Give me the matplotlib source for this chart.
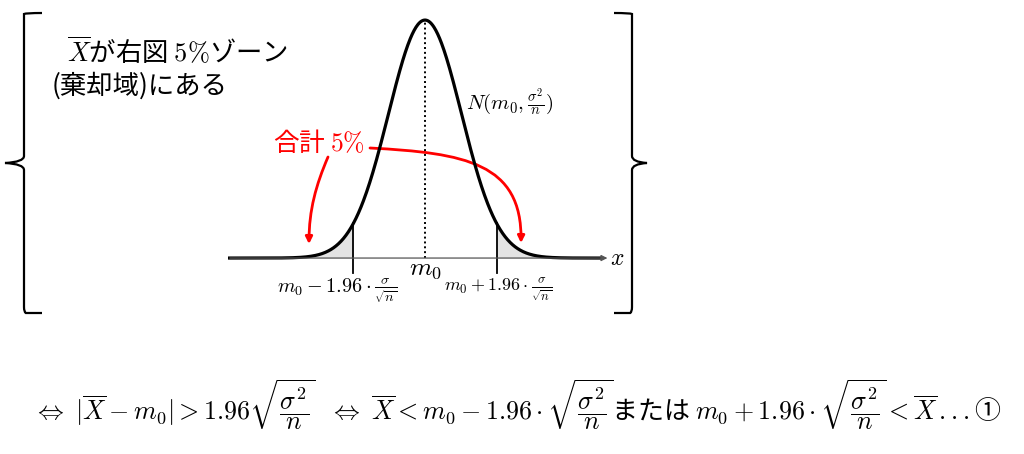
import numpy as np
import matplotlib
matplotlib.use("Agg")
import matplotlib.pyplot as plt
from matplotlib.path import Path
from matplotlib.patches import FancyArrowPatch, PathPatch

plt.rcParams['font.family'] = ['Noto Sans CJK JP', 'DejaVu Sans']
plt.rcParams['mathtext.fontset'] = 'cm'

# distribution of the sample mean, in units of sigma/sqrt(n)
m0 = 0.0
z_crit = 1.96
x_lo, x_hi = -5.4, 4.85
curve_label = r'$N(m_0,\frac{\sigma^2}{n})$'
left_label = r'$m_0-1.96\cdot\frac{\sigma}{\sqrt{n}}$'
right_label = r'$m_0+1.96\cdot\frac{\sigma}{\sqrt{n}}$'
text_line1 = r'$\overline{X}$が右図 $5\%$ゾーン'
text_line2 = '(棄却域)にある'
red_text = r'合計 $5\%$'
formula = (r'$\Leftrightarrow\ |\overline{X}-m_0|>1.96\sqrt{\dfrac{\sigma^2}{n}}'
           r'\ \ \Leftrightarrow\ \overline{X}<m_0-1.96\cdot\sqrt{\dfrac{\sigma^2}{n}}$'
           r'または $m_0+1.96\cdot\sqrt{\dfrac{\sigma^2}{n}}<\overline{X}\,...$①')

xs = np.linspace(x_lo, x_hi, 600)
pdf = np.exp(-0.5 * (xs - m0) ** 2) / np.sqrt(2 * np.pi)
pdf_crit = np.exp(-0.5 * z_crit ** 2) / np.sqrt(2 * np.pi)
peak = 1 / np.sqrt(2 * np.pi)

fig = plt.figure(figsize=(10.24, 4.54), dpi=100)

# overlay in pixel coordinates for braces and free text
ax0 = fig.add_axes([0, 0, 1, 1])
ax0.set_xlim(0, 1024)
ax0.set_ylim(454, 0)
ax0.axis('off')

# curve axes
ax = fig.add_axes([228 / 1024, (454 - 317.7) / 454, 394 / 1024, 310.2 / 454])
ax.patch.set_alpha(0)
ax.set_xlim(-5.4, 5.4)
ax.set_ylim(-0.1, 0.42)
ax.axis('off')

tail_l = xs <= -z_crit
tail_r = xs >= z_crit
ax.fill_between(xs[tail_l], 0, pdf[tail_l], color='#e3e3e3', lw=0)
ax.fill_between(xs[tail_r], 0, pdf[tail_r], color='#e3e3e3', lw=0)
ax.annotate('', xy=(5.0, 0), xytext=(-5.35, 0),
            arrowprops=dict(arrowstyle='-|>', color='#555555', lw=0.9,
                            mutation_scale=9, shrinkA=0, shrinkB=0))
ax.plot(xs, pdf, color='black', lw=2.3, solid_capstyle='butt')
ax.plot([m0, m0], [0, peak], color='black', lw=1.4, ls=(0, (1, 1.5)))
for z in (-z_crit, z_crit):
    ax.plot([z, z], [-0.025, pdf_crit], color='black', lw=1.3)

ax.text(m0, -0.017, r'$m_0$', fontsize=18.5, ha='center', va='center')
ax.text(5.28, 0.0, r'$x$', fontsize=17, ha='center', va='center')
ax.text(-2.41, -0.054, left_label, fontsize=14.5, ha='center', va='center')
ax.text(2.0, -0.054, right_label, fontsize=13, ha='center', va='center')
ax.text(1.12, 0.263, curve_label, fontsize=15, ha='left', va='center')

# braces
def brace(x_line, x_end, x_tip, y_top, y_mid, y_bot):
    d = 6 if x_end > x_line else -6
    verts = [(x_end, y_top), (x_line + d * 0.3, y_top), (x_line, y_top + 1), (x_line, y_top + 6),
             (x_line, y_mid - 7), (x_line, y_mid - 1), (x_tip, y_mid),
             (x_line, y_mid + 1), (x_line, y_mid + 7),
             (x_line, y_bot - 6), (x_line, y_bot - 1), (x_line + d * 0.3, y_bot), (x_end, y_bot)]
    codes = [Path.MOVETO, Path.CURVE3, Path.CURVE3, Path.LINETO,
             Path.LINETO, Path.CURVE3, Path.CURVE3,
             Path.CURVE3, Path.CURVE3,
             Path.LINETO, Path.CURVE3, Path.CURVE3, Path.LINETO]
    ax0.add_patch(PathPatch(Path(verts, codes), fill=False, lw=1.6, color='black'))

brace(24, 42, 5, 13, 163, 313)
brace(632, 614, 647, 13, 163, 313)

ax0.text(67, 52, text_line1, fontsize=19, ha='left', va='center')
ax0.text(52, 86, text_line2, fontsize=19, ha='left', va='center')
ax0.text(273, 143, red_text, fontsize=18.5, ha='left', va='center', color='red')

# red arrows
p1 = Path([(328, 157), (316, 185), (309, 210), (309, 244)],
          [Path.MOVETO, Path.CURVE4, Path.CURVE4, Path.CURVE4])
p2 = Path([(370, 148), (465, 153), (522, 163), (521, 243)],
          [Path.MOVETO, Path.CURVE4, Path.CURVE4, Path.CURVE4])
for p in (p1, p2):
    ax0.add_patch(FancyArrowPatch(path=p, arrowstyle='-|>', color='red', lw=2,
                                  mutation_scale=10))

ax0.text(33, 405, formula, fontsize=18.7, ha='left', va='center')

fig.savefig('out.png', dpi=100)
